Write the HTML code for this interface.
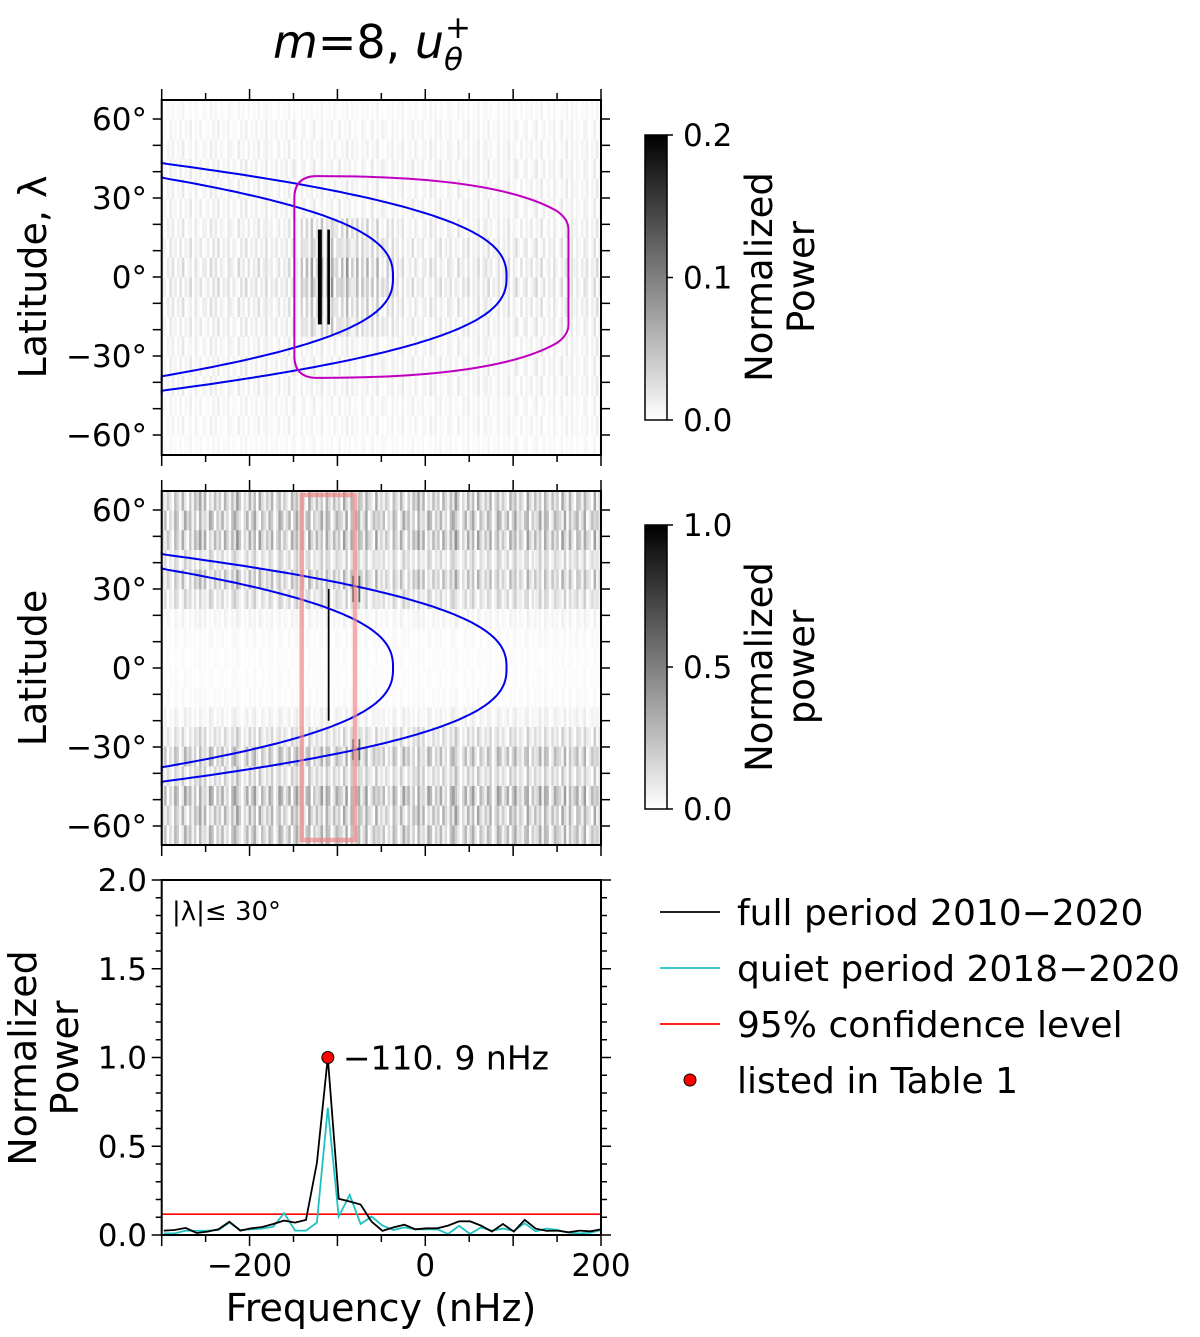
<!DOCTYPE html>
<html><head><meta charset="utf-8">
<style>
html,body{margin:0;padding:0;background:#fff;}
svg{display:block;font-family:"DejaVu Sans","Liberation Sans",sans-serif;}
</style></head>
<body>
<svg id="fig" width="1200" height="1337" viewBox="0 0 1200 1337" xmlns="http://www.w3.org/2000/svg">
<text x="372" y="58" font-size="46" text-anchor="middle"><tspan font-style="italic">m</tspan>=8, <tspan font-style="italic">u</tspan><tspan font-style="italic" font-size="31" dy="12">θ</tspan><tspan font-size="31" dx="-18" dy="-32">+</tspan></text>
<g id="p1"></g>
<g id="p2"></g>
<g id="p3"></g>
<g id="cb"></g>
<g id="leg"></g>
</svg>
<script>
// ---------- data ----------
const freqs = [-297.6,-285.2,-272.7,-260.3,-247.8,-235.4,-222.9,-210.5,-198.0,-185.6,-173.1,-160.7,-148.2,-135.8,-123.3,-110.9,-98.5,-86.0,-73.6,-61.1,-48.7,-36.2,-23.8,-11.3,1.1,13.6,26.0,38.5,50.9,63.4,75.8,88.3,100.7,113.2,125.6,138.1,150.5,163.0,175.4,187.9,200.3];
const fullPower = [0.025,0.028,0.04,0.011,0.019,0.032,0.075,0.025,0.038,0.045,0.062,0.081,0.07,0.085,0.406,1.0,0.204,0.189,0.172,0.075,0.023,0.043,0.058,0.032,0.038,0.038,0.053,0.077,0.077,0.053,0.019,0.062,0.019,0.085,0.036,0.023,0.025,0.015,0.025,0.021,0.032];
const quietPower = [0.009,0.009,0.025,0.023,0.025,0.028,0.07,0.028,0.032,0.036,0.047,0.123,0.025,0.025,0.07,0.717,0.104,0.226,0.062,0.104,0.053,0.028,0.043,0.032,0.032,0.032,0.006,0.051,0.006,0.042,0.025,0.036,0.023,0.066,0.021,0.036,0.028,0.013,0.009,0.013,0.028];
const confLevel = 0.117;
const peakFreq = -110.9, peakPower = 1.0;
const xTicks = [-200,0,200];
const latTicks = [60,30,0,-30,-60];
const powTicks = [0.0,0.5,1.0,1.5,2.0];
const cb1Ticks = [0.0,0.1,0.2];
const cb2Ticks = [0.0,0.5,1.0];
// heatmap 1 (vmax 0.2): rows top->bottom, lat bins 7.5deg
const hm1Rows = [0.10,0.15,0.18,0.2,0.2,0.2,0.25,0.3,0.35,0.35,0.3,0.25,0.2,0.2,0.2,0.15,0.15,0.1];
const hm1ColsA = "102130214012031022041302103210412030214023120130214021030213021401203102140312021302140102130214012031022041302103210412030214023120130214021030213021401203102140312021302140";
const hm1ColsB = "210312030214021301203140213021031402130214021302130241023012401302130140213021032014021321031203021402130120314021302103140213021402130213024102301240130213014021302103201402";
const hm1Core = "000000000000000000000000000000000000000000000000000001030507020604080305070206030502040103020100000000000000000000000000000000000000000000000000000000000000000000000000000000";
const hm1Peaks = [[-120,4.5,-18,18,0.2],[-110,3,-18,18,0.2]]; // freq, widthNHz, lat0, lat1, value
// heatmap 2 (vmax 1.0)
const hm2Rows = [0.45,0.45,0.5,0.25,0.4,0.25,0.08,0.04,0.03,0.03,0.04,0.1,0.25,0.4,0.3,0.5,0.45,0.42];
const hm2ColsA = "314205316204153726031524063152840316250731426035142063514207315240631524073162054163207131420531620415372603152406315284031625073142603514206351420731524063152407316205416320713";
const hm2ColsB = "250316402735140623175042613057420361472053164027513604723156042371650264317052461370253425031640273514062317504261305742036147205316402751360472315604237165026431705246137025342";
const hm2Peaks = [[-110,2,-20,30,1.0],[-82,2,25,35,0.7],[-75,2,25,35,0.6],[-82,2,-35,-27,0.6],[-75,2,-35,-27,0.6]];
// theoretical curves: vertex frequency, reach lat at f=-300
const curveVertex = [-36.7, 92.5];
const curveLatAtEdge = [37.7, 43.2];

// ---------- layout ----------
const NS="http://www.w3.org/2000/svg";
const X0=161.7, X1=601, FMIN=-300, FMAX=200;
const fx=f=>X0+(f-FMIN)/(FMAX-FMIN)*(X1-X0);
const PX_DEG=158/60;
function el(tag,attrs,parent){const e=document.createElementNS(NS,tag);for(const k in attrs)e.setAttribute(k,attrs[k]);parent.appendChild(e);return e;}
function txt(parent,x,y,s,size,anchor,extra){const t=el('text',Object.assign({x:x,y:y,'font-size':size,'text-anchor':anchor||'start'},extra||{}),parent);t.textContent=s;return t;}
function gray(v,vmax){const g=Math.round(255*(1-Math.max(0,Math.min(1,v/vmax))));return `rgb(${g},${g},${g})`;}

function heatPanel(g,cy,top,bot,rows,colsA,colsB,core,peaks,vmax){
  const ly=l=>cy-l*PX_DEG;
  const n=colsA.length, cw=(X1-X0)/n, nr=rows.length, rh=(bot-top)/nr;
  for(let r=0;r<nr;r++){
    const s=(r%2?colsB:colsA);
    const lat=67.5-(r+0.5)*7.5;
    for(let c=0;c<n;c++){
      let v=rows[r]*(+s[c])/9*vmax;
      if(core && Math.abs(lat)<22){v+= (+core[c])/9*vmax*0.35*(Math.abs(lat)<8?1:0.55);}
      const rc=el('rect',{x:X0+c*cw,y:top+r*rh,width:cw+0.4,height:rh+0.4,fill:gray(v,vmax)},g);
      
      
    }
  }
  peaks.forEach(p=>{
    const w=p[1]*(X1-X0)/(FMAX-FMIN);
    const rc=el('rect',{x:fx(p[0])-w/2,y:ly(p[3]),width:w,height:ly(p[2])-ly(p[3]),fill:gray(p[4],vmax)},g);
    
    
  });
  curveVertex.forEach((f0,i)=>{
    const L=curveLatAtEdge[i], c=(f0-FMIN)/Math.pow(L,2.5);
    let d='';
    for(let lat=-L-1.5;lat<=L+1.5;lat+=0.5){
      const f=f0-c*Math.pow(Math.abs(lat),2.5);
      d+=(d?'L':'M')+Math.max(X0,fx(f)).toFixed(1)+','+ly(lat).toFixed(1);
    }
    const pth=el('path',{d:d,fill:'none',stroke:'#0000ee','stroke-width':2},g);
    
    
  });
}
function frame(g,top,bot){
  el('rect',{x:X0,y:top,width:X1-X0,height:bot-top,fill:'none',stroke:'#000','stroke-width':2},g);
  for(let f=-300;f<=200;f+=50){
    const L=(f%100===0)?11:7, x=fx(f);
    el('line',{x1:x,y1:top,x2:x,y2:top-L,stroke:'#000','stroke-width':1.5},g);
    el('line',{x1:x,y1:bot,x2:x,y2:bot+L,stroke:'#000','stroke-width':1.5},g);
  }
}
function latAxis(g,cy,top,bot,labelText){
  for(let l=-60;l<=60;l+=10){
    const y=cy-l*PX_DEG; if(y<top||y>bot)continue;
    el('line',{x1:X0,y1:y,x2:X0-9,y2:y,stroke:'#000','stroke-width':1.5},g);
    el('line',{x1:X1,y1:y,x2:X1+9,y2:y,stroke:'#000','stroke-width':1.5},g);
  }
  latTicks.forEach(l=>{const t=txt(g,147,cy-l*PX_DEG+11,(l<0?'−':'')+Math.abs(l)+'°',31,'end');
    });
  const t=txt(g,0,0,labelText,38,'middle',{transform:`translate(46,${cy}) rotate(-90)`});
  
}

// panel 1
const g1=document.getElementById('p1');
heatPanel(g1,277,100,455,hm1Rows,hm1ColsA,hm1ColsB,hm1Core,hm1Peaks,0.2);
{
  const ly=l=>277-l*PX_DEG;
  const xl=fx(-149), xr=fx(163);
  const d=`M${xl},${ly(30)} Q${xl},${ly(38)} ${fx(-125)},${ly(38.3)} Q${fx(80)},${ly(38.5)} ${fx(150)},${ly(25)} Q${xr},${ly(22)} ${xr},${ly(18)} L${xr},${ly(-18)} Q${xr},${ly(-22)} ${fx(150)},${ly(-25)} Q${fx(80)},${ly(-38.5)} ${fx(-125)},${ly(-38.3)} Q${xl},${ly(-38)} ${xl},${ly(-30)} Z`;
  const p=el('path',{d:d,fill:'none',stroke:'#c000c0','stroke-width':2},g1);
  
}
frame(g1,100,455); latAxis(g1,277,100,455,'Latitude, λ');

// panel 2
const g2=document.getElementById('p2');
heatPanel(g2,668,491,845,hm2Rows,hm2ColsA,hm2ColsB,null,hm2Peaks,1.0);
{
  const r=el('rect',{x:301.7,y:495,width:53.3,height:345,fill:'none',stroke:'#f08080','stroke-opacity':0.65,'stroke-width':4.5},g2);
  
}
frame(g2,491,845); latAxis(g2,668,491,845,'Latitude');

// panel 3
const g3=document.getElementById('p3');
const T3=880,B3=1235, py=v=>B3-v/2*(B3-T3);
{
  const l=el('line',{x1:X0,y1:py(confLevel),x2:X1,y2:py(confLevel),stroke:'#ff0000','stroke-width':1.6},g3);
  
  const q=el('polyline',{points:freqs.map((f,i)=>fx(f).toFixed(1)+','+py(quietPower[i]).toFixed(1)).join(' '),fill:'none',stroke:'#20c0c0','stroke-width':1.8},g3);
  
  const k=el('polyline',{points:freqs.map((f,i)=>fx(f).toFixed(1)+','+py(fullPower[i]).toFixed(1)).join(' '),fill:'none',stroke:'#000','stroke-width':1.8},g3);
  
  const c=el('circle',{cx:fx(peakFreq),cy:py(peakPower),r:6,fill:'#ff0000',stroke:'#000','stroke-width':1},g3);
  
  const t=txt(g3,fx(peakFreq)+15,py(peakPower)+12,'−110. 9 nHz',33,'start');
  
}
el('rect',{x:X0,y:T3,width:X1-X0,height:B3-T3,fill:'none',stroke:'#000','stroke-width':2},g3);
for(let f=-300;f<=200;f+=50){const L=(f%100===0)?11:7,x=fx(f);
  el('line',{x1:x,y1:B3,x2:x,y2:B3+L,stroke:'#000','stroke-width':1.5},g3);}
for(let i=0;i<=20;i++){const v=i/10,y=py(v),L=(i%5===0)?10:6;
  el('line',{x1:X0,y1:y,x2:X0-L,y2:y,stroke:'#000','stroke-width':1.5},g3);
  el('line',{x1:X1,y1:y,x2:X1+L,y2:y,stroke:'#000','stroke-width':1.5},g3);}
powTicks.forEach(v=>{const t=txt(g3,147,py(v)+11,v.toFixed(1),31,'end');
  });
xTicks.forEach(f=>{const t=txt(g3,fx(f),1276,(f<0?'−':'')+Math.abs(f),31,'middle');
  });
{
  let t=txt(g3,381,1321,'Frequency (nHz)',38,'middle');
  t=txt(g3,0,0,'Normalized',38,'middle',{transform:'translate(36,1058) rotate(-90)'});
  t=txt(g3,0,0,'Power',38,'middle',{transform:'translate(78,1058) rotate(-90)'});
  t=txt(g3,172,920,'|λ|≤ 30°',26,'start');
}

// colorbars
const cb=document.getElementById('cb');
const defs=el('defs',{},cb);
const lg=el('linearGradient',{id:'gr',x1:0,y1:1,x2:0,y2:0},defs);
el('stop',{offset:0,'stop-color':'#fff'},lg);el('stop',{offset:1,'stop-color':'#000'},lg);
function colorbar(top,bot,ticks,vmax,cx,title2){
  const r=el('rect',{x:645,y:top,width:22,height:bot-top,fill:'url(#gr)',stroke:'#000','stroke-width':1.5},cb);
  
  ticks.forEach(v=>{const y=bot-v/vmax*(bot-top);
    el('line',{x1:667,y1:y,x2:673,y2:y,stroke:'#000','stroke-width':1.5},cb);
    const t=txt(cb,683,y+11,v.toFixed(1),31,'start');});
  let t=txt(cb,0,0,'Normalized',37,'middle',{transform:`translate(772,${cx}) rotate(-90)`});
  t=txt(cb,0,0,title2,37,'middle',{transform:`translate(814,${cx}) rotate(-90)`});
}
colorbar(135,420,cb1Ticks,0.2,277,'Power');
colorbar(525,809,cb2Ticks,1.0,667,'power');

// legend
const leg=document.getElementById('leg');
const legItems=[['full period 2010−2020','#000','line'],['quiet period 2018−2020','#20c0c0','line'],['95% confidence level','#ff0000','line'],['listed in Table 1','#ff0000','dot']];
legItems.forEach((it,i)=>{
  const y=912+i*56;
  if(it[2]==='line'){const l=el('line',{x1:660,y1:y,x2:720,y2:y,stroke:it[1],'stroke-width':1.8},leg);
    }
  else{const c=el('circle',{cx:690,cy:y,r:6,fill:it[1],stroke:'#000','stroke-width':1},leg);
    }
  const t=txt(leg,737,y+13,it[0],36,'start');
  
});
</script>
</body></html>
